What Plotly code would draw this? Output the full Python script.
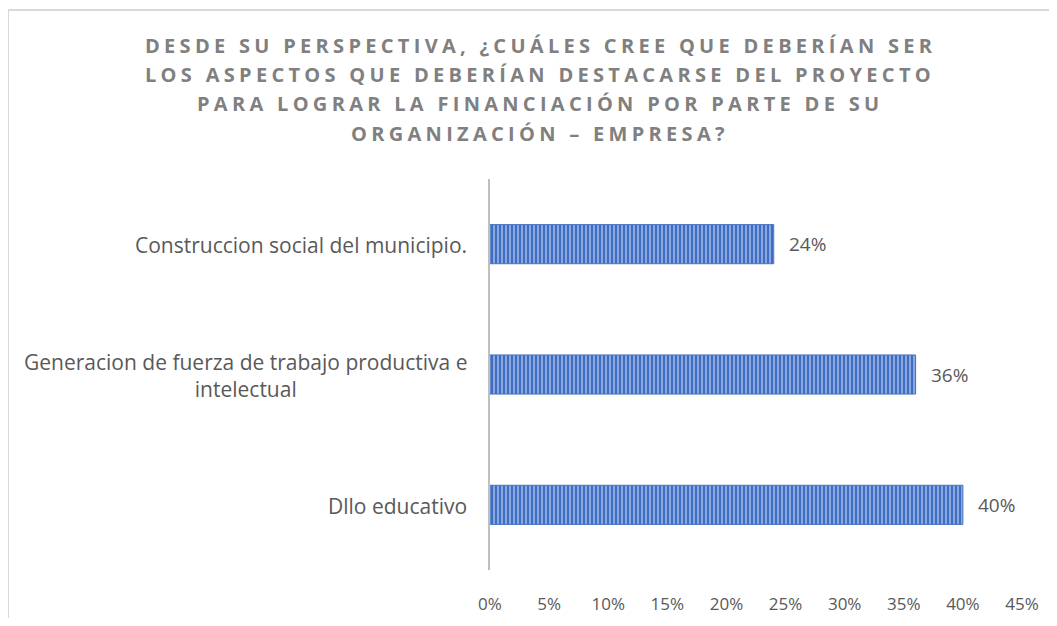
import plotly.graph_objects as go

categories = [
    "Construccion social del municipio.",
    "Generacion de fuerza de trabajo productiva e<br>intelectual",
    "Dllo educativo",
]
values = [0.24, 0.36, 0.40]
tick_vals = [0, 0.05, 0.10, 0.15, 0.20, 0.25, 0.30, 0.35, 0.40, 0.45]
tick_text = ["0%", "5%", "10%", "15%", "20%", "25%", "30%", "35%", "40%", "45%"]
title_lines = [
    "DESDE SU PERSPECTIVA, ¿CUÁLES CREE QUE DEBERÍAN SER",
    "LOS ASPECTOS QUE DEBERÍAN DESTACARSE DEL PROYECTO",
    "PARA LOGRAR LA FINANCIACIÓN POR PARTE DE SU",
    "ORGANIZACIÓN – EMPRESA?",
]

# page body has an 8px margin, so the figure is drawn 8px in from the top-left
W, H = 1041, 610
L, R, T, B = 482, 27, 171, 48
pw, ph = W - L - R, H - T - B

fig = go.Figure()
fig.add_trace(go.Bar(
    y=categories, x=values, orientation="h",
    marker=dict(
        color="#6A8FD2",
        line=dict(color="#4472C4", width=1),
        pattern=dict(shape="|", fgcolor="#3F6DC2", bgcolor="#93AFE2", size=4,
                     solidity=0.55, fgopacity=1),
    ),
    hoverinfo="skip",
))

annotations = []
for c in categories:
    annotations.append(dict(
        x=0, xref="paper", y=c, yref="y", text=c, showarrow=False,
        xanchor="right", yanchor="middle", align="center", xshift=-21, yshift=-1,
        font=dict(family="Open Sans", size=21, color="#595959"),
    ))
for c, v in zip(categories, values):
    annotations.append(dict(
        x=v, xref="x", y=c, yref="y", text=f"{round(v*100)}%", showarrow=False,
        xanchor="left", yanchor="middle", xshift=13,
        font=dict(family="Open Sans", size=19, color="#595959"),
    ))

title_centers = [37, 66.5, 96, 125]  # figure pixel y of each title line
for t, yc in zip(title_lines, title_centers):
    annotations.append(dict(
        x=(532 - L) / pw, xref="paper", y=(H - B - yc) / ph, yref="paper",
        text=f'<b><span style="letter-spacing:4.3px">{t}</span></b>',
        showarrow=False, xanchor="center", yanchor="middle",
        font=dict(family="Open Sans", size=20, color="#808080"),
    ))

x0 = (0 - L) / pw
y1 = (H - B - 2) / ph
shapes = [
    dict(type="line", xref="paper", yref="paper", x0=x0, x1=x0, y0=-0.3, y1=y1,
         line=dict(color="#D9D9D9", width=2)),
    dict(type="line", xref="paper", yref="paper", x0=x0, x1=1.2, y0=y1, y1=y1,
         line=dict(color="#D9D9D9", width=2)),
]

fig.update_layout(
    width=W, height=H,
    margin=dict(l=L, r=R, t=T, b=B, autoexpand=False),
    paper_bgcolor="white", plot_bgcolor="white",
    showlegend=False, bargap=0.7,
    annotations=annotations, shapes=shapes,
    font=dict(family="Open Sans", color="#595959"),
    xaxis=dict(range=[0, 0.45], tickvals=tick_vals, ticktext=tick_text,
               showgrid=False, zeroline=False, showline=False, automargin=False,
               tickfont=dict(size=17, color="#595959"), ticklabelstandoff=22),
    yaxis=dict(autorange="reversed", showticklabels=False, showgrid=False,
               automargin=False,
               zeroline=False, showline=True, linecolor="#BFBFBF", linewidth=2),
)

fig.write_html("out.html")
